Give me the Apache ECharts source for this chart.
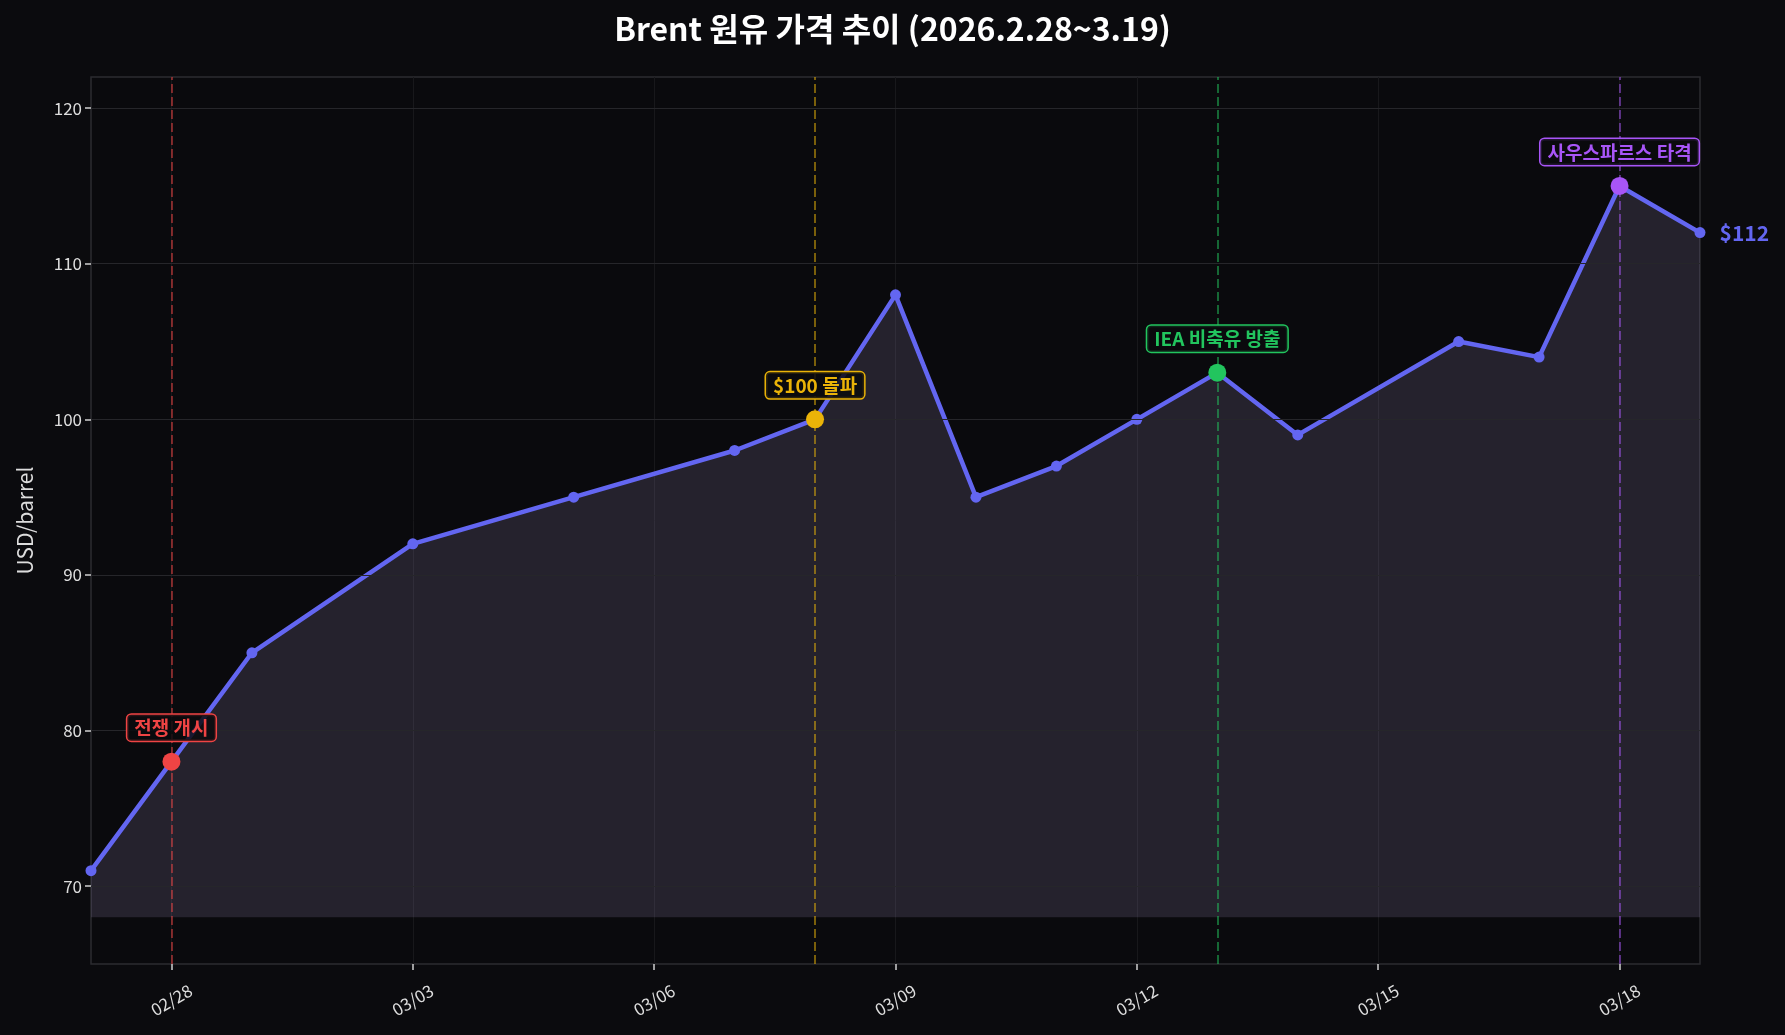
<!DOCTYPE html>
<html>
<head>
<meta charset="utf-8">
<script src="https://cdn.jsdelivr.net/npm/echarts@6/dist/echarts.min.js"></script>
<style>
html,body{margin:0;padding:0;background:#0b0b0e;}
#chart{width:1785px;height:1035px;}
</style>
</head>
<body>
<div id="chart"></div>
<script>
// ---- data ----
const axisDays = ['02/27','02/28','03/01','03/02','03/03','03/04','03/05','03/06','03/07','03/08','03/09','03/10','03/11','03/12','03/13','03/14','03/15','03/16','03/17','03/18','03/19'];
const tickDays = ['02/28','03/03','03/06','03/09','03/12','03/15','03/18'];
const dates  = ['02/27','02/28','03/01','03/03','03/05','03/07','03/08','03/09','03/10','03/11','03/12','03/13','03/14','03/16','03/17','03/18','03/19'];
const prices = [71, 78, 85, 92, 95, 98, 100, 108, 95, 97, 100, 103, 99, 105, 104, 115, 112];
const eventDates  = ['02/28','03/08','03/13','03/18'];
const eventPrices = [78, 100, 103, 115];
const eventLabels = ['전쟁 개시','$100 돌파','IEA 비축유 방출','사우스파르스 타격'];
const yTicks = [70, 80, 90, 100, 110, 120];
const fillBase = 68;

// ---- styles ----
const eventColors = ['#ef4444','#eab308','#22c55e','#a855f7'];
const eventLineColors = ['rgba(239,68,68,0.5)','rgba(234,179,8,0.5)','rgba(34,197,94,0.5)','rgba(168,85,247,0.5)'];
const FONT = '"Noto Sans CJK KR", "Noto Sans", sans-serif';
const tickSet = new Set(tickDays);
const isTick = (idx) => tickSet.has(axisDays[idx]);

const lineData = dates.map((d, i) => {
  const item = { value: [d, prices[i]] };
  if (i === dates.length - 1) {
    item.label = {
      show: true, position: 'right', distance: 14,
      formatter: (p) => '$' + p.value[1],
      color: '#6366f1', fontSize: 21, fontWeight: 'bold', fontFamily: FONT
    };
  }
  return item;
});

const eventData = eventDates.map((d, i) => ({
  value: [d, eventPrices[i]],
  itemStyle: { color: eventColors[i], opacity: 1 },
  label: {
    show: true, position: 'top', distance: 12,
    formatter: eventLabels[i],
    color: eventColors[i], fontSize: 19, fontWeight: 'bold', fontFamily: FONT,
    backgroundColor: 'rgba(11,11,14,0.85)', borderColor: eventColors[i],
    borderWidth: 1.5, borderRadius: 4, padding: [4, 7, 3, 7]
  }
}));

const chart = echarts.init(document.getElementById('chart'), null, { renderer: 'canvas' });
chart.setOption({
  backgroundColor: '#0b0b0e',
  animation: false,
  title: {
    text: 'Brent 원유 가격 추이 (2026.2.28~3.19)',
    left: 'center', top: 8,
    textStyle: { color: '#ffffff', fontSize: 32, fontWeight: 'bold', fontFamily: FONT }
  },
  grid: {
    left: 91, right: 85, top: 77, bottom: 71,
    show: true, backgroundColor: '#0a0a0d', borderColor: '#2c2c30', borderWidth: 1.5
  },
  xAxis: {
    type: 'category', data: axisDays, boundaryGap: false,
    axisLine: { show: false },
    axisTick: { show: true, interval: isTick, length: 6, lineStyle: { color: '#d0d0d0', width: 1.5 } },
    axisLabel: {
      interval: isTick, rotate: 30, margin: 36, align: 'center', verticalAlign: 'middle',
      color: '#dddddd', fontSize: 17, fontFamily: FONT
    },
    splitLine: { show: true, interval: isTick, lineStyle: { color: '#18181b', width: 1 } }
  },
  yAxis: {
    type: 'value', min: 65, max: 122,
    name: 'USD/barrel', nameLocation: 'middle', nameGap: 55,
    nameTextStyle: { color: '#dddddd', fontSize: 21, fontFamily: FONT },
    axisLine: { show: false },
    axisTick: { show: true, customValues: yTicks, length: 6, lineStyle: { color: '#d0d0d0', width: 1.5 } },
    axisLabel: { customValues: yTicks, color: '#dddddd', fontSize: 17, fontFamily: FONT, margin: 9 },
    splitLine: { show: false }
  },
  series: [
    {
      type: 'line', name: 'grid', silent: true, data: [],
      markLine: {
        silent: true, symbol: 'none', label: { show: false },
        lineStyle: { color: '#26262a', width: 1.2, type: 'solid' },
        data: yTicks.map(v => ({ yAxis: v }))
      }
    },
    {
      type: 'line', name: 'Brent', data: lineData,
      symbol: 'circle', symbolSize: 11, showSymbol: true,
      lineStyle: { color: '#6366f1', width: 4.5 },
      itemStyle: { color: '#6366f1' },
      areaStyle: { origin: fillBase, color: 'rgba(165,150,200,0.25)' },
      z: 3,
      markLine: {
        silent: true, symbol: 'none', label: { show: false },
        data: eventDates.map((d, i) => ({ xAxis: d, lineStyle: { color: eventLineColors[i], width: 2, type: [9, 4] } }))
      }
    },
    {
      type: 'scatter', name: 'events', data: eventData,
      symbol: 'circle', symbolSize: 18, z: 5
    }
  ]
});
</script>
</body>
</html>
